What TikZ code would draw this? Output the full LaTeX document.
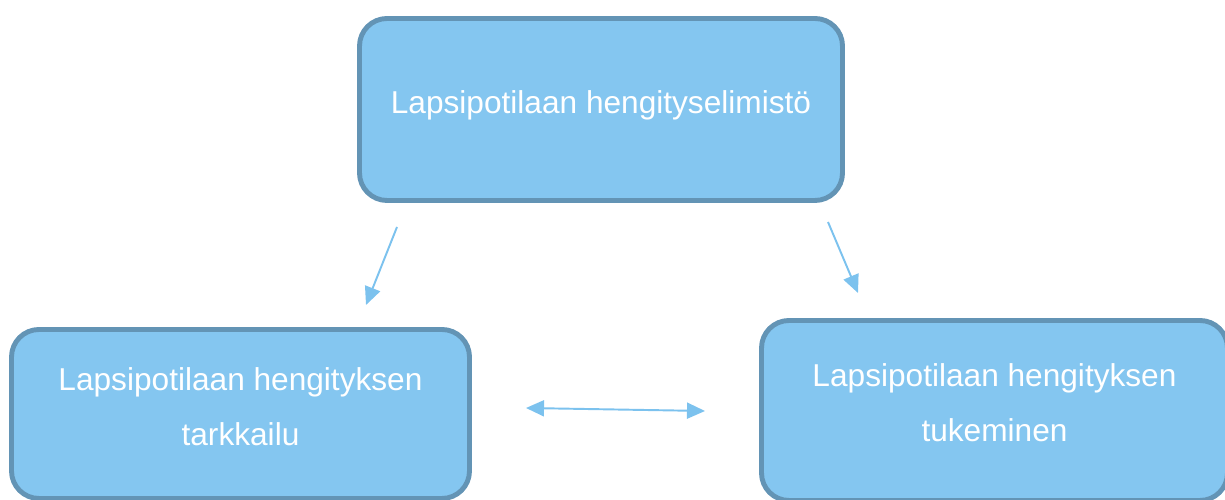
\documentclass[tikz,border=0pt]{standalone}
\usepackage{fontspec}
\setmainfont{Liberation Sans}
\usepackage{tikz}
\usetikzlibrary{arrows.meta,positioning,calc}
\definecolor{boxfill}{HTML}{84C6F0}
\definecolor{boxline}{HTML}{6394B5}
\definecolor{arrowblue}{HTML}{7CC2EE}

\begin{document}
\begin{tikzpicture}[
  box/.style={draw=boxline, fill=boxfill, line width=2.8pt, rounded corners=0.55cm,
              text=white, align=center, text depth=9pt,
              font=\fontsize{18pt}{31.3pt}\selectfont},
  arr/.style={-{Triangle[length=0.36cm,width=0.32cm]}, draw=arrowblue, fill=arrowblue, line width=1.1pt}
]
\useasboundingbox (0,0) rectangle (24.5,10);

\node[box, minimum width=9.66cm, minimum height=3.64cm] (top) at (12.02,7.81) {Lapsipotilaan hengityselimistö};
\node[box, minimum width=9.16cm, minimum height=3.38cm] (watch) at (4.81,1.72) {Lapsipotilaan hengityksen\\tarkkailu};
\node[box, minimum width=9.32cm, minimum height=3.6cm] (support) at (19.89,1.79) {Lapsipotilaan hengityksen\\tukeminen};

% free arrow ends
\coordinate (wstart) at (7.94,5.46);
\coordinate (wend) at (7.32,3.90);
\coordinate (sstart) at (16.56,5.56);
\coordinate (send) at (17.16,4.14);
\coordinate (mleft) at (10.52,1.84);
\coordinate (mright) at (14.10,1.78);

\draw[arr] (wstart) -- (wend);
\draw[arr] (sstart) -- (send);
\draw[arr, {Triangle[length=0.36cm,width=0.32cm]}-{Triangle[length=0.36cm,width=0.32cm]}] (mleft) -- (mright);
\end{tikzpicture}
\end{document}
